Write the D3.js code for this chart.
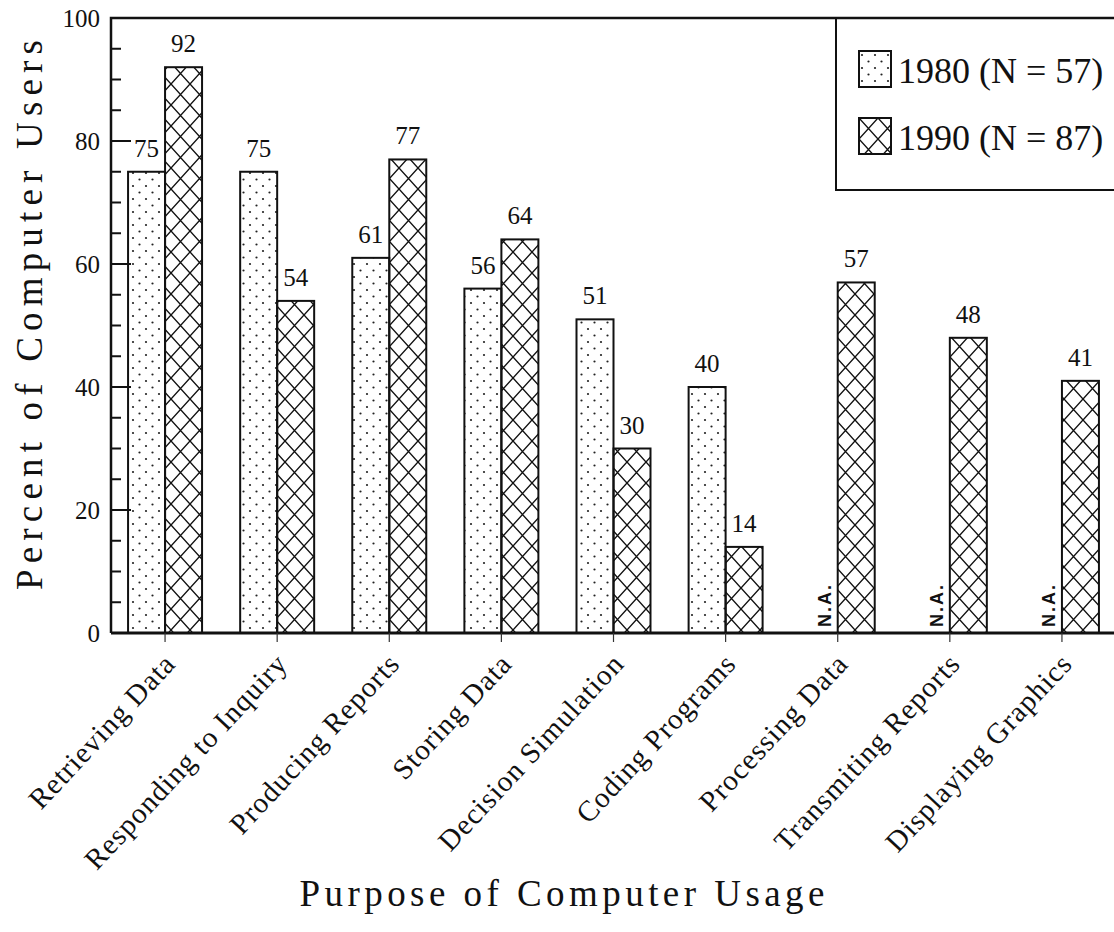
<!DOCTYPE html>
<html lang="en">
<head>
  <meta charset="UTF-8">
  <title>Purpose of Computer Usage</title>
  <style>
    body { margin: 0; background: #fff; }
    svg { display: block; }
    text { font-family: "Liberation Serif", "DejaVu Serif", serif; fill: #111; }
  </style>
</head>
<body>
  <svg width="1114" height="932"></svg>
  <script src="https://d3js.org/d3.v7.min.js"></script>
  <script>
  const categories = ["Retrieving Data", "Responding to Inquiry", "Producing Reports", "Storing Data",
    "Decision Simulation", "Coding Programs", "Processing Data", "Transmiting Reports", "Displaying Graphics"];
  const values1980 = [75, 75, 61, 56, 51, 40, null, null, null];
  const values1990 = [92, 54, 77, 64, 30, 14, 57, 48, 41];
  const yTicks = [0, 20, 40, 60, 80, 100];
  const legendLabels = ["1980 (N = 57)", "1990 (N = 87)"];

  const svg = d3.select("svg");
  const plotLeft = 111, plotTop = 18, plotBottom = 633, plotRight = 1118;

  const x = d3.scaleBand().domain(categories).range([109, plotRight]).paddingInner(0.34).paddingOuter(0.17);
  const y = d3.scaleLinear().domain([0, 100]).range([plotBottom, plotTop]);
  const half = x.bandwidth() / 2;
  const mid = d => x(d) + half;

  // fill patterns
  const defs = svg.append("defs");
  const dots = defs.append("pattern").attr("id", "dots").attr("patternUnits", "userSpaceOnUse")
    .attr("width", 13).attr("height", 13);
  dots.append("circle").attr("cx", 3).attr("cy", 4).attr("r", 1.1).attr("fill", "#222");
  dots.append("circle").attr("cx", 9.5).attr("cy", 10.5).attr("r", 1.1).attr("fill", "#222");

  const hatch = defs.append("pattern").attr("id", "hatch").attr("patternUnits", "userSpaceOnUse")
    .attr("width", 19).attr("height", 21);
  hatch.append("path").attr("d", "M0,0L19,21M19,0L0,21")
    .attr("stroke", "#111").attr("stroke-width", 1.4).attr("fill", "none");

  // bars
  const g = svg.append("g");
  g.selectAll("rect.b80")
    .data(categories.map((c, i) => ({c, v: values1980[i]})).filter(d => d.v != null))
    .join("rect").attr("class", "b80")
    .attr("x", d => x(d.c)).attr("width", half)
    .attr("y", d => y(d.v)).attr("height", d => plotBottom - y(d.v))
    .attr("fill", "url(#dots)").attr("stroke", "#111").attr("stroke-width", 2);
  g.selectAll("rect.b90")
    .data(categories.map((c, i) => ({c, v: values1990[i]})))
    .join("rect").attr("class", "b90")
    .attr("x", d => mid(d.c)).attr("width", half)
    .attr("y", d => y(d.v)).attr("height", d => plotBottom - y(d.v))
    .attr("fill", "url(#hatch)").attr("stroke", "#111").attr("stroke-width", 2);

  // value labels
  g.selectAll("text.l80")
    .data(categories.map((c, i) => ({c, v: values1980[i]})).filter(d => d.v != null))
    .join("text").attr("class", "l80")
    .attr("x", d => x(d.c) + half / 2).attr("y", d => y(d.v) - 15)
    .attr("text-anchor", "middle").style("font-size", "25px").text(d => d.v);
  g.selectAll("text.l90")
    .data(categories.map((c, i) => ({c, v: values1990[i]})))
    .join("text").attr("class", "l90")
    .attr("x", d => mid(d.c) + half / 2).attr("y", d => y(d.v) - 15)
    .attr("text-anchor", "middle").style("font-size", "25px").text(d => d.v);

  // N.A. markers
  g.selectAll("text.na")
    .data(categories.filter((c, i) => values1980[i] == null))
    .join("text").attr("class", "na")
    .attr("transform", d => `translate(${mid(d) - 7},${plotBottom - 6}) rotate(-90)`)
    .style("font-family", "'Liberation Sans', Arial, sans-serif").style("font-weight", "bold")
    .style("font-size", "18px").style("letter-spacing", "2px").text("N.A.");

  // frame and axes
  svg.append("path").attr("d", `M${plotLeft},${plotBottom}V${plotTop}H1114`)
    .attr("stroke", "#111").attr("stroke-width", 2.5).attr("fill", "none");
  svg.append("line").attr("x1", plotLeft).attr("x2", 1114).attr("y1", plotBottom).attr("y2", plotBottom)
    .attr("stroke", "#111").attr("stroke-width", 3);

  const minor = d3.range(0, 101, 5);
  svg.append("g").selectAll("line").data(minor).join("line")
    .attr("x1", plotLeft).attr("x2", d => plotLeft + (d % 20 === 0 ? 20 : 10))
    .attr("y1", d => y(d)).attr("y2", d => y(d))
    .attr("stroke", "#111").attr("stroke-width", 2);
  svg.append("g").selectAll("text").data(yTicks).join("text")
    .attr("x", 100).attr("y", d => y(d) + 9).attr("text-anchor", "end")
    .style("font-size", "25px").text(d => d);

  // category ticks and labels
  svg.append("g").selectAll("line").data(categories).join("line")
    .attr("x1", mid).attr("x2", mid).attr("y1", plotBottom).attr("y2", plotBottom + 9)
    .attr("stroke", "#333").attr("stroke-width", 1.2);
  svg.append("g").selectAll("text").data(categories).join("text")
    .attr("transform", d => `translate(${mid(d) + 12},${plotBottom + 32}) rotate(-47)`)
    .attr("text-anchor", "end").style("font-size", "29px").style("letter-spacing", "1px")
    .text(d => d);

  // axis titles
  svg.append("text").attr("transform", "translate(42,315) rotate(-90)")
    .attr("text-anchor", "middle").style("font-size", "37px")
    .attr("textLength", 550).attr("lengthAdjust", "spacing").text("Percent of Computer Users");
  svg.append("text").attr("x", 562).attr("y", 906)
    .attr("text-anchor", "middle").style("font-size", "37px")
    .attr("textLength", 525).attr("lengthAdjust", "spacing").text("Purpose of Computer Usage");

  // legend
  svg.append("path").attr("d", `M1114,190H836V${plotTop}`)
    .attr("stroke", "#111").attr("stroke-width", 2).attr("fill", "none");
  const leg = svg.append("g").selectAll("g").data(legendLabels).join("g")
    .attr("transform", (d, i) => `translate(859,${51 + i * 67})`);
  leg.append("rect").attr("width", 32).attr("height", 36)
    .attr("fill", (d, i) => i === 0 ? "url(#dots)" : "url(#hatch)")
    .attr("stroke", "#111").attr("stroke-width", 2);
  leg.append("text").attr("x", 39).attr("y", 32).style("font-size", "36px").text(d => d);
  </script>
</body>
</html>
